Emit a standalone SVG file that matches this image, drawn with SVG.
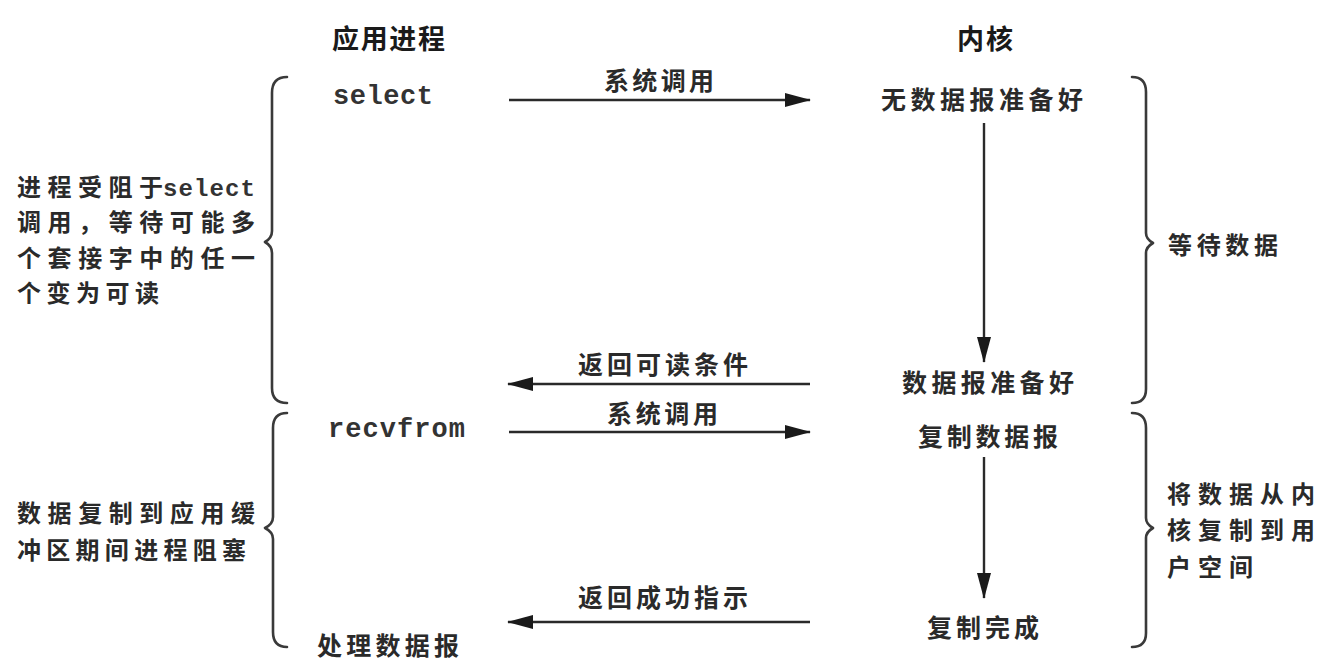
<svg xmlns="http://www.w3.org/2000/svg" width="1331" height="665" viewBox="0 0 1331 665">
  <style>
    .cjk { font-family: "Noto Sans CJK SC", "Noto Sans", sans-serif; font-size: 25px; font-weight: 600; fill: #2a2a2a; }
    .side { font-family: "Noto Sans CJK SC", "Noto Sans", sans-serif; font-size: 24px; font-weight: 600; fill: #2a2a2a; }
    .hdr { font-family: "Noto Sans CJK SC", "Noto Sans", sans-serif; font-size: 27px; font-weight: 700; fill: #1a1a1a; }
    .mono { font-family: "Liberation Mono", "DejaVu Sans Mono", monospace; font-size: 27px; font-weight: 700; fill: #333333; }
    .monos { font-family: "Liberation Mono", "DejaVu Sans Mono", monospace; font-size: 24px; font-weight: 700; fill: #333333; }
    .line { stroke: #2a2a2a; stroke-width: 2.4; fill: none; }
    .brace { stroke: #3a3a3a; stroke-width: 2.6; fill: none; stroke-linecap: round; stroke-linejoin: round; }
  </style>
  <defs>
    <marker id="ah" viewBox="0 0 26 14" refX="25" refY="7" markerWidth="26" markerHeight="14" markerUnits="userSpaceOnUse" orient="auto">
      <path d="M0,0 L26,7 L0,14 Z" fill="#1a1a1a"/>
    </marker>
  </defs>
  <rect width="1331" height="665" fill="#ffffff"/>

  <g id="header-app"><text class="hdr" x="332" y="49" textLength="113" lengthAdjust="spacing">应用进程</text></g>
  <g id="header-kernel"><text class="hdr" x="957" y="49" textLength="56" lengthAdjust="spacing">内核</text></g>

  <g id="app-select"><text class="mono" x="333" y="104" textLength="100" lengthAdjust="spacing">select</text></g>
  <g id="app-recvfrom"><text class="mono" x="328" y="437" textLength="137" lengthAdjust="spacing">recvfrom</text></g>
  <g id="app-process"><text class="cjk" x="317" y="655" textLength="142" lengthAdjust="spacing">处理数据报</text></g>

  <g id="k-nodata"><text class="cjk" x="881" y="109" textLength="202" lengthAdjust="spacing">无数据报准备好</text></g>
  <g id="k-ready"><text class="cjk" x="902" y="392" textLength="172" lengthAdjust="spacing">数据报准备好</text></g>
  <g id="k-copy"><text class="cjk" x="918" y="446" textLength="140" lengthAdjust="spacing">复制数据报</text></g>
  <g id="k-done"><text class="cjk" x="927" y="637" textLength="112" lengthAdjust="spacing">复制完成</text></g>

  <g id="brace-left-1">
    <path class="brace" d="M287,77 Q272,77 272,93 L272,231 Q272,238 265,242 Q272,246 272,253 L272,388 Q272,403 287,403"/>
    <text class="side" x="17" y="196"><tspan textLength="146" lengthAdjust="spacing">进程受阻于</tspan><tspan class="monos" x="163" textLength="92" lengthAdjust="spacing">select</tspan></text>
    <text class="side" x="17" y="231" textLength="238" lengthAdjust="spacing">调用，等待可能多</text>
    <text class="side" x="17" y="267" textLength="238" lengthAdjust="spacing">个套接字中的任一</text>
    <text class="side" x="17" y="302" textLength="142" lengthAdjust="spacing">个变为可读</text>
  </g>
  <g id="brace-left-2">
    <path class="brace" d="M287,413 Q273,413 273,428 L273,517 Q273,524 265,528 Q273,532 273,539 L273,632 Q273,647 287,647"/>
    <text class="side" x="17" y="522" textLength="238" lengthAdjust="spacing">数据复制到应用缓</text>
    <text class="side" x="17" y="559" textLength="229" lengthAdjust="spacing">冲区期间进程阻塞</text>
  </g>
  <g id="brace-right-1">
    <path class="brace" d="M1132,77 Q1146,77 1146,92 L1146,233 Q1146,239 1153,243 Q1146,247 1146,253 L1146,389 Q1146,403 1132,403"/>
    <text class="side" x="1168" y="254" textLength="110" lengthAdjust="spacing">等待数据</text>
  </g>
  <g id="brace-right-2">
    <path class="brace" d="M1132,413 Q1146,413 1146,428 L1146,518 Q1146,524 1153,528 Q1146,532 1146,538 L1146,633 Q1146,647 1132,647"/>
    <text class="side" x="1167" y="503" textLength="148" lengthAdjust="spacing">将数据从内</text>
    <text class="side" x="1167" y="539" textLength="148" lengthAdjust="spacing">核复制到用</text>
    <text class="side" x="1167" y="576" textLength="86" lengthAdjust="spacing">户空间</text>
  </g>

  <g id="connectors">
    <line class="line" x1="509" y1="100" x2="810" y2="100" marker-end="url(#ah)"/>
    <text class="cjk" x="604" y="90" textLength="110" lengthAdjust="spacing">系统调用</text>

    <line class="line" x1="984" y1="123" x2="984" y2="362" marker-end="url(#ah)"/>

    <line class="line" x1="810" y1="384" x2="508" y2="384" marker-end="url(#ah)"/>
    <text class="cjk" x="578" y="374" textLength="170" lengthAdjust="spacing">返回可读条件</text>

    <line class="line" x1="509" y1="432" x2="810" y2="432" marker-end="url(#ah)"/>
    <text class="cjk" x="607" y="423" textLength="111" lengthAdjust="spacing">系统调用</text>

    <line class="line" x1="984" y1="457" x2="984" y2="598" marker-end="url(#ah)"/>

    <line class="line" x1="810" y1="622" x2="508" y2="622" marker-end="url(#ah)"/>
    <text class="cjk" x="578" y="607" textLength="170" lengthAdjust="spacing">返回成功指示</text>
  </g>
</svg>
